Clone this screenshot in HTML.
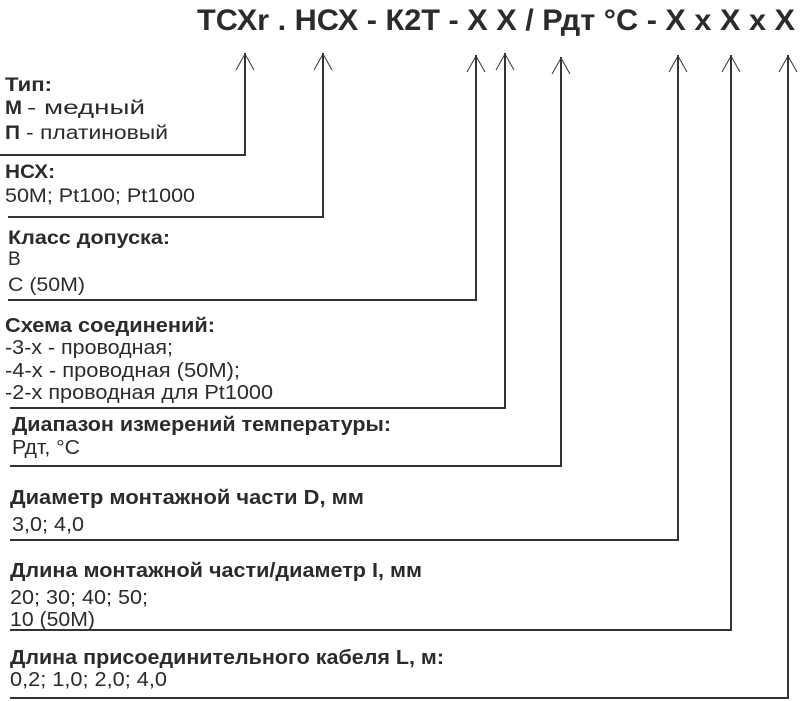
<!DOCTYPE html>
<html><head><meta charset="utf-8"><style>
html,body{margin:0;padding:0;background:#fff;}
svg{display:block}
text{font-family:"Liberation Sans",sans-serif;fill:#2b2b2b;font-size:19px}
.b{font-weight:bold}
.n{font-size:20px}
</style></head><body>
<svg width="803" height="701" viewBox="0 0 803 701" xmlns="http://www.w3.org/2000/svg">
<text x="197" y="30" class="b" style="font-size:30px" textLength="598" lengthAdjust="spacingAndGlyphs">ТСХr . НСХ - К2Т - Х Х / Рдт °С - Х х Х х Х</text>
<g stroke="#333" stroke-width="2" fill="none">
<polyline points="0,155 245,155 245,53"/>
<polyline points="8,217 323,217 323,53"/>
<polyline points="8,300 476,300 476,55"/>
<polyline points="10,408 505,408 505,53"/>
<polyline points="10,466 561,466 561,57"/>
<polyline points="10,540 678,540 678,55"/>
<polyline points="10,630 731,630 731,55"/>
<polyline points="10,698 788,698 788,55"/>
</g>
<g stroke="#333" stroke-width="1" fill="none">
<polyline points="236,70 245,54 254,70"/>
<polyline points="314,70 323,54 332,70"/>
<polyline points="467,72 476,56 485,72"/>
<polyline points="496,70 505,54 514,70"/>
<polyline points="552,74 561,58 570,74"/>
<polyline points="669,72 678,56 687,72"/>
<polyline points="722,72 731,56 740,72"/>
<polyline points="779,72 788,56 797,72"/>
</g>
<text x="5" y="91" class="b" textLength="47" lengthAdjust="spacingAndGlyphs">Тип:</text>
<text x="5" y="114" class="b" textLength="17" lengthAdjust="spacingAndGlyphs">М</text>
<text x="27" y="114" textLength="118" lengthAdjust="spacingAndGlyphs">- медный</text>
<text x="5" y="139" class="b" textLength="15" lengthAdjust="spacingAndGlyphs">П</text>
<text x="26" y="139" textLength="142" lengthAdjust="spacingAndGlyphs">- платиновый</text>
<text x="5" y="178" class="b" textLength="50" lengthAdjust="spacingAndGlyphs">НСХ:</text>
<text x="5" y="202" textLength="190" lengthAdjust="spacingAndGlyphs">50М; Pt100; Pt1000</text>
<text x="8" y="244" class="b" textLength="162" lengthAdjust="spacingAndGlyphs">Класс допуска:</text>
<text x="8" y="265">В</text>
<text x="8" y="291" textLength="77" lengthAdjust="spacingAndGlyphs">С (50М)</text>
<text x="5" y="332" class="b n" textLength="210" lengthAdjust="spacingAndGlyphs">Схема соединений:</text>
<text x="5" y="354" class="n" textLength="168" lengthAdjust="spacingAndGlyphs">-3-х - проводная;</text>
<text x="5" y="377" class="n" textLength="235" lengthAdjust="spacingAndGlyphs">-4-х - проводная (50М);</text>
<text x="5" y="399" class="n" textLength="268" lengthAdjust="spacingAndGlyphs">-2-х проводная для Pt1000</text>
<text x="12" y="431" class="b n" textLength="379" lengthAdjust="spacingAndGlyphs">Диапазон измерений температуры:</text>
<text x="12" y="454" class="n" textLength="68" lengthAdjust="spacingAndGlyphs">Рдт, °С</text>
<text x="10" y="504" class="b n" textLength="354" lengthAdjust="spacingAndGlyphs">Диаметр монтажной части D, мм</text>
<text x="12" y="531" class="n" textLength="72" lengthAdjust="spacingAndGlyphs">3,0; 4,0</text>
<text x="10" y="577" class="b n" textLength="412" lengthAdjust="spacingAndGlyphs">Длина монтажной части/диаметр I, мм</text>
<text x="10" y="604" class="n" textLength="138" lengthAdjust="spacingAndGlyphs">20; 30; 40; 50;</text>
<text x="10" y="626" class="n" textLength="85" lengthAdjust="spacingAndGlyphs">10 (50М)</text>
<text x="10" y="664" class="b n" textLength="434" lengthAdjust="spacingAndGlyphs">Длина присоединительного кабеля L, м:</text>
<text x="10" y="686" class="n" textLength="157" lengthAdjust="spacingAndGlyphs">0,2; 1,0; 2,0; 4,0</text>
</svg>
</body></html>
